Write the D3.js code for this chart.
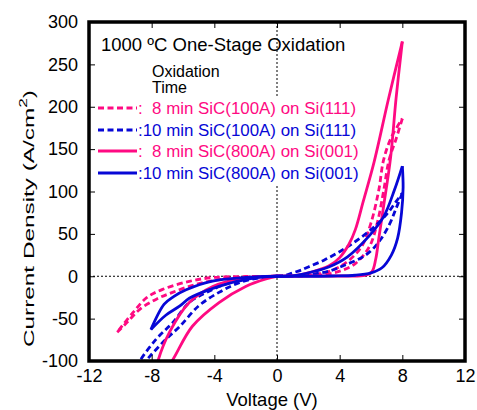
<!DOCTYPE html>
<html>
<head>
<meta charset="utf-8">
<script src="https://cdn.jsdelivr.net/npm/d3@7"></script>
<style>
  body { margin: 0; background: #fff; }
  svg text { font-family: "Liberation Sans", Arial, sans-serif; fill: #000; }
</style>
</head>
<body>
<div id="chart"></div>
<script>
// axis ticks
var xTicks = [-12, -8, -4, 0, 4, 8, 12];
var yTicks = [-100, -50, 0, 50, 100, 150, 200, 250, 300];

// each loop: [voltage, current density], sweep out to the tip and back
var pinkDashPos = [[0,0],[2,1.5],[3.3,5.6],[4.4,16],[5.4,35],[6.0,63],[6.5,102],[6.8,137],[7.3,164],[8,186],
  [7.6,162],[7.15,137],[6.8,100],[6.4,63],[5.9,35],[5.0,15],[4.0,6],[3,2],[1.5,0.3],[0,0]];
var pinkDashNeg = [[0,0],[-2,-0.3],[-4.1,-1.5],[-5.6,-6],[-7.3,-15.5],[-8.3,-25],[-9.2,-43],[-10.2,-66],
  [-9.6,-55],[-8.76,-39],[-7.7,-27],[-6.67,-19],[-5.2,-9.7],[-3.7,-4],[-2,-1],[0,0]];

var blueDashPos = [[0,0],[0.5,1],[1,4],[1.5,7],[2,11],[3,19],[4,29],[5,41],[6,55],[7,73],[7.6,88],[8,98],
  [7.6,80],[7.2,62],[6.6,43],[6,30],[5.3,21],[4.3,13],[3.3,6],[2,2],[1,0.5],[0,0]];
var blueDashNeg = [[0,0],[-1.5,-2],[-3,-7.6],[-4.5,-19],[-5.6,-31],[-6.67,-55],[-7.7,-74],[-8.76,-100],[-9.1,-112],
  [-8.4,-100],[-7.9,-90],[-7.07,-74],[-6.2,-59],[-5,-35],[-3.7,-19],[-2.4,-7.6],[-1,-1.5],[0,0]];

var pinkSolidPos = [[0,0],[1,0.5],[2.2,5],[3.3,12],[4.0,22],[4.6,38],[5.0,55],[5.5,88],[6.2,135],[7.1,208],[8,277],
  [7.6,210],[7.25,140],[6.8,82],[6.5,45],[6.3,20],[6.05,5],[5.6,1],[4,0.3],[0,0]];
var pinkSolidNeg = [[0,0],[-2.4,-3],[-4.1,-12],[-5.6,-31],[-6.86,-66],[-7.6,-100],[-8,-135],
  [-7.4,-118],[-6.7,-100],[-5.4,-59],[-3.7,-31],[-2,-12],[-0.7,-3],[0,0]];

var blueSolidPos = [[0,0],[1,0.5],[2.2,5],[3.3,11],[4.5,23],[5.9,48],[6.8,70],[7.5,102],[8,130],
  [8.05,105],[7.95,75],[7.7,45],[7.3,25],[6.7,10],[6.0,4],[5.0,1.2],[3.5,0.3],[0,0]];
var blueSolidNeg = [[0,0],[-2,-1.5],[-4.2,-6],[-5.8,-16],[-6.6,-24],[-7.2,-33],[-8.05,-63],
  [-7.1,-46],[-6.2,-35],[-5.6,-26],[-4.2,-15],[-3,-8],[-2,-4],[-1,-1],[0,0]];

var legendLabels = [":  8 min SiC(100A) on Si(111)", ":10 min SiC(100A) on Si(111)",
                    ":  8 min SiC(800A) on Si(001)", ":10 min SiC(800A) on Si(001)"];

var pink = "#ff0a82", blue = "#0707d6";
var series = [
  {label: legendLabels[0], color: pink, dash: "6,3.5", loops: [pinkDashPos, pinkDashNeg]},
  {label: legendLabels[1], color: blue, dash: "6,3.5", loops: [blueDashPos, blueDashNeg]},
  {label: legendLabels[2], color: pink, dash: null, loops: [pinkSolidPos, pinkSolidNeg]},
  {label: legendLabels[3], color: blue, dash: null, loops: [blueSolidPos, blueSolidNeg]}
];

var W = 477, H = 410;
var pLeft = 89, pRight = 465, pTop = 22, pBottom = 361;

var svg = d3.select("#chart").append("svg")
    .attr("width", W).attr("height", H);

var x = d3.scaleLinear().domain([-12, 12]).range([pLeft, pRight]);
var y = d3.scaleLinear().domain([-100, 300]).range([pBottom, pTop]);
var fmt = function(d){ return String(d); };

svg.append("clipPath").attr("id", "plotclip")
  .append("rect").attr("x", pLeft).attr("y", pTop)
  .attr("width", pRight - pLeft).attr("height", pBottom - pTop);

// zero lines
svg.append("line")
    .attr("x1", pLeft).attr("x2", pRight).attr("y1", y(0)).attr("y2", y(0))
    .attr("stroke", "#000").attr("stroke-width", 1).attr("stroke-dasharray", "2,2");
svg.append("line")
    .attr("x1", x(0)).attr("x2", x(0)).attr("y1", pTop).attr("y2", pBottom)
    .attr("stroke", "#000").attr("stroke-width", 1).attr("stroke-dasharray", "2,2");

// title
svg.append("text").attr("x", 101).attr("y", 51)
    .style("font-size", "18.5px").text("1000 \u00baC One-Stage Oxidation");

// legend
svg.append("rect").attr("x", 93).attr("y", 96).attr("width", 269).attr("height", 88)
    .attr("fill", "#fff");
svg.append("text").attr("x", 152).attr("y", 77).style("font-size", "16px").text("Oxidation");
svg.append("text").attr("x", 152).attr("y", 93).style("font-size", "16px").text("Time");

var legendRowsY = [114, 136, 157, 179];
series.forEach(function(s, i){
    var ly = legendRowsY[i];
    svg.append("line")
        .attr("x1", 98).attr("x2", 137).attr("y1", ly - 6).attr("y2", ly - 6)
        .attr("stroke", s.color).attr("stroke-width", 3)
        .attr("stroke-dasharray", s.dash);
    svg.append("text").attr("x", 138).attr("y", ly)
        .style("font-size", "16.9px").style("white-space", "pre")
        .style("fill", s.color).text(s.label);
});

// curves
var line = d3.line()
    .x(function(d){ return x(d[0]); })
    .y(function(d){ return y(d[1]); })
    .curve(d3.curveCatmullRom.alpha(0.5));

var curves = svg.append("g").attr("clip-path", "url(#plotclip)");
series.forEach(function(s){
    s.loops.forEach(function(loop){
        // split at the tip so the turning point stays sharp
        var tip = d3.maxIndex(loop, function(d){ return Math.abs(d[1]); });
        [loop.slice(0, tip + 1), loop.slice(tip)].forEach(function(branch){
            curves.append("path")
                .attr("d", line(branch))
                .attr("fill", "none")
                .attr("stroke", s.color)
                .attr("stroke-width", 2.8)
                .attr("stroke-dasharray", s.dash);
        });
    });
});

// axes, ticks pointing inwards
function styleAxis(g){
    g.select(".domain").remove();
    g.selectAll(".tick line").attr("stroke", "#000").attr("stroke-width", 1);
    g.selectAll("text").style("font-size", "18px").attr("fill", "#000")
        .style("font-family", "'Liberation Sans', Arial, sans-serif");
}
svg.append("g").attr("transform", "translate(0," + pBottom + ")")
    .call(d3.axisBottom(x).tickValues(xTicks).tickSize(-6).tickPadding(8).tickFormat(fmt))
    .call(styleAxis);
svg.append("g").attr("transform", "translate(0," + pTop + ")")
    .call(d3.axisTop(x).tickValues(xTicks).tickSize(-6).tickFormat(""))
    .call(styleAxis);
svg.append("g").attr("transform", "translate(" + pLeft + ",0)")
    .call(d3.axisLeft(y).tickValues(yTicks).tickSize(-6).tickPadding(11).tickFormat(fmt))
    .call(styleAxis);
svg.append("g").attr("transform", "translate(" + pRight + ",0)")
    .call(d3.axisRight(y).tickValues(yTicks).tickSize(-6).tickFormat(""))
    .call(styleAxis);

// frame
svg.append("rect").attr("x", pLeft).attr("y", pTop)
    .attr("width", pRight - pLeft).attr("height", pBottom - pTop)
    .attr("fill", "none").attr("stroke", "#000").attr("stroke-width", 3.5);

// axis titles
svg.append("text").attr("x", 272).attr("y", 406).attr("text-anchor", "middle")
    .style("font-size", "18.5px").text("Voltage (V)");

var yTitle = svg.append("text")
    .attr("transform", "translate(34,218.5) rotate(-90)")
    .attr("text-anchor", "middle")
    .attr("textLength", 257).attr("lengthAdjust", "spacingAndGlyphs")
    .style("font-size", "15.5px");
yTitle.append("tspan").text("Current Density (A/cm");
yTitle.append("tspan").attr("dy", -7).style("font-size", "11px").text("2");
yTitle.append("tspan").attr("dy", 7).text(")");
</script>
</body>
</html>
